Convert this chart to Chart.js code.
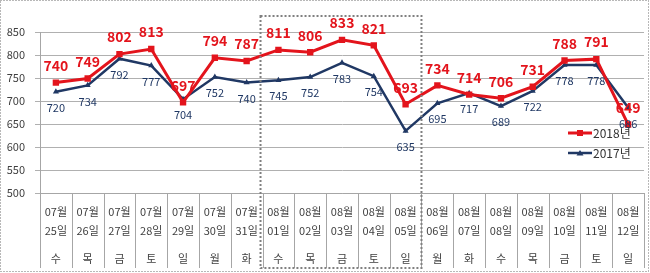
<!DOCTYPE html>
<html>
<head>
<meta charset="utf-8">
<script src="https://cdn.jsdelivr.net/npm/chart.js@4/dist/chart.umd.min.js"></script>
<style>
  html, body { margin: 0; padding: 0; background: #ffffff; }
  #wrap { width: 650px; height: 273px; position: relative; }
</style>
</head>
<body>
<div id="wrap"><canvas id="c" width="650" height="273"></canvas></div>
<script>
const months = ['07월','07월','07월','07월','07월','07월','07월','08월','08월','08월','08월','08월','08월','08월','08월','08월','08월','08월','08월'];
const days = ['25일','26일','27일','28일','29일','30일','31일','01일','02일','03일','04일','05일','06일','07일','08일','09일','10일','11일','12일'];
const weekdays = ['수','목','금','토','일','월','화','수','목','금','토','일','월','화','수','목','금','토','일'];
const series2018 = [740, 749, 802, 813, 697, 794, 787, 811, 806, 833, 821, 693, 734, 714, 706, 731, 788, 791, 649];
const series2017 = [720, 734, 792, 777, 704, 752, 740, 745, 752, 783, 754, 635, 695, 717, 689, 722, 778, 778, 686];
const seriesNames = ['2018년', '2017년'];
const yTicks = [500, 550, 600, 650, 700, 750, 800, 850];
const highlightRange = [7, 11];

const FONT = "'Noto Sans CJK KR', 'Noto Sans', sans-serif";
const RED = '#e3141c';
const NAVY = '#203864';

const labels = months.map((m, i) => [m, '', days[i], '', '', weekdays[i]]);

const decorPlugin = {
  id: 'decor',
  afterDraw(chart) {
    const ctx = chart.ctx;
    const xs = chart.scales.x;
    const area = chart.chartArea;
    const half = (xs.getPixelForValue(1) - xs.getPixelForValue(0)) / 2;
    ctx.save();
    ctx.strokeStyle = '#a6a6a6';
    ctx.lineWidth = 1;
    for (let i = 0; i <= months.length; i++) {
      const x = Math.round(xs.getPixelForValue(i) - half) + 0.5;
      ctx.beginPath();
      ctx.moveTo(x, area.bottom);
      ctx.lineTo(x, 268);
      ctx.stroke();
    }
    const x0 = xs.getPixelForValue(highlightRange[0]) - half - 2;
    const x1 = xs.getPixelForValue(highlightRange[1]) + half;
    ctx.setLineDash([2, 2]);
    ctx.strokeStyle = '#808080';
    ctx.lineWidth = 2;
    ctx.strokeRect(x0, 16, x1 - x0, 268 - 16);
    ctx.setLineDash([1, 2]);
    ctx.strokeStyle = '#707070';
    ctx.lineWidth = 1;
    ctx.strokeRect(0.5, 0.5, 648, 271);
    ctx.setLineDash([]);
    const items = [
      { name: seriesNames[0], color: RED, y: 133, style: 'rect', w: 3 },
      { name: seriesNames[1], color: NAVY, y: 153, style: 'triangle', w: 2.5 }
    ];
    items.forEach(it => {
      ctx.strokeStyle = it.color;
      ctx.fillStyle = it.color;
      ctx.lineWidth = it.w;
      ctx.beginPath();
      ctx.moveTo(568, it.y);
      ctx.lineTo(592, it.y);
      ctx.stroke();
      if (it.style === 'rect') {
        ctx.fillRect(577, it.y - 3, 6, 6);
      } else {
        ctx.beginPath();
        ctx.moveTo(580, it.y - 3);
        ctx.lineTo(583.5, it.y + 2.5);
        ctx.lineTo(576.5, it.y + 2.5);
        ctx.closePath();
        ctx.fill();
      }
      ctx.fillStyle = '#333333';
      ctx.font = '12px ' + FONT;
      ctx.textAlign = 'left';
      ctx.textBaseline = 'middle';
      ctx.fillText(it.name, 593, it.y);
    });
    ctx.restore();
  },
  afterDatasetsDraw(chart) {
    const ctx = chart.ctx;
    ctx.save();
    ctx.textAlign = 'center';
    ctx.textBaseline = 'middle';
    const m1 = chart.getDatasetMeta(1);
    ctx.font = '11px ' + FONT;
    ctx.fillStyle = NAVY;
    m1.data.forEach((pt, i) => {
      ctx.fillText(String(series2017[i]), pt.x, pt.y + 16);
    });
    const m0 = chart.getDatasetMeta(0);
    ctx.font = 'bold 14px ' + FONT;
    ctx.fillStyle = RED;
    m0.data.forEach((pt, i) => {
      ctx.fillText(String(series2018[i]), pt.x, pt.y - 17);
    });
    ctx.restore();
  }
};

new Chart(document.getElementById('c'), {
  type: 'line',
  data: {
    labels: labels,
    datasets: [
      {
        label: seriesNames[0],
        data: series2018,
        borderColor: RED,
        backgroundColor: RED,
        borderWidth: 3,
        pointStyle: 'rect',
        pointRadius: 4.5,
        pointBorderWidth: 0,
        tension: 0
      },
      {
        label: seriesNames[1],
        data: series2017,
        borderColor: NAVY,
        backgroundColor: NAVY,
        borderWidth: 2.5,
        pointStyle: 'triangle',
        pointRadius: 3.5,
        pointBorderWidth: 0,
        tension: 0
      }
    ]
  },
  options: {
    responsive: false,
    animation: false,
    devicePixelRatio: 1,
    layout: { padding: { top: 32, right: 6, bottom: 0, left: 0 } },
    plugins: {
      legend: { display: false },
      tooltip: { enabled: false }
    },
    scales: {
      x: {
        offset: true,
        grid: { display: false, offset: true },
        border: { display: true, color: '#a6a6a6', width: 1 },
        ticks: {
          autoSkip: false,
          maxRotation: 0,
          minRotation: 0,
          padding: 6,
          color: '#404040',
          font: { family: FONT, size: 11, lineHeight: '9.5px' }
        },
        afterFit(scale) { scale.height = 80; }
      },
      y: {
        min: 500,
        max: 850,
        afterBuildTicks(scale) { scale.ticks = yTicks.map(v => ({ value: v })); },
        grid: { color: '#b0b0b0', lineWidth: 1, drawTicks: true, tickLength: 5 },
        border: { display: true, color: '#a6a6a6', width: 1 },
        ticks: {
          padding: 10,
          color: '#404040',
          font: { family: FONT, size: 11 }
        },
        afterFit(scale) { scale.width = 40; }
      }
    }
  },
  plugins: [decorPlugin]
});
</script>
</body>
</html>
